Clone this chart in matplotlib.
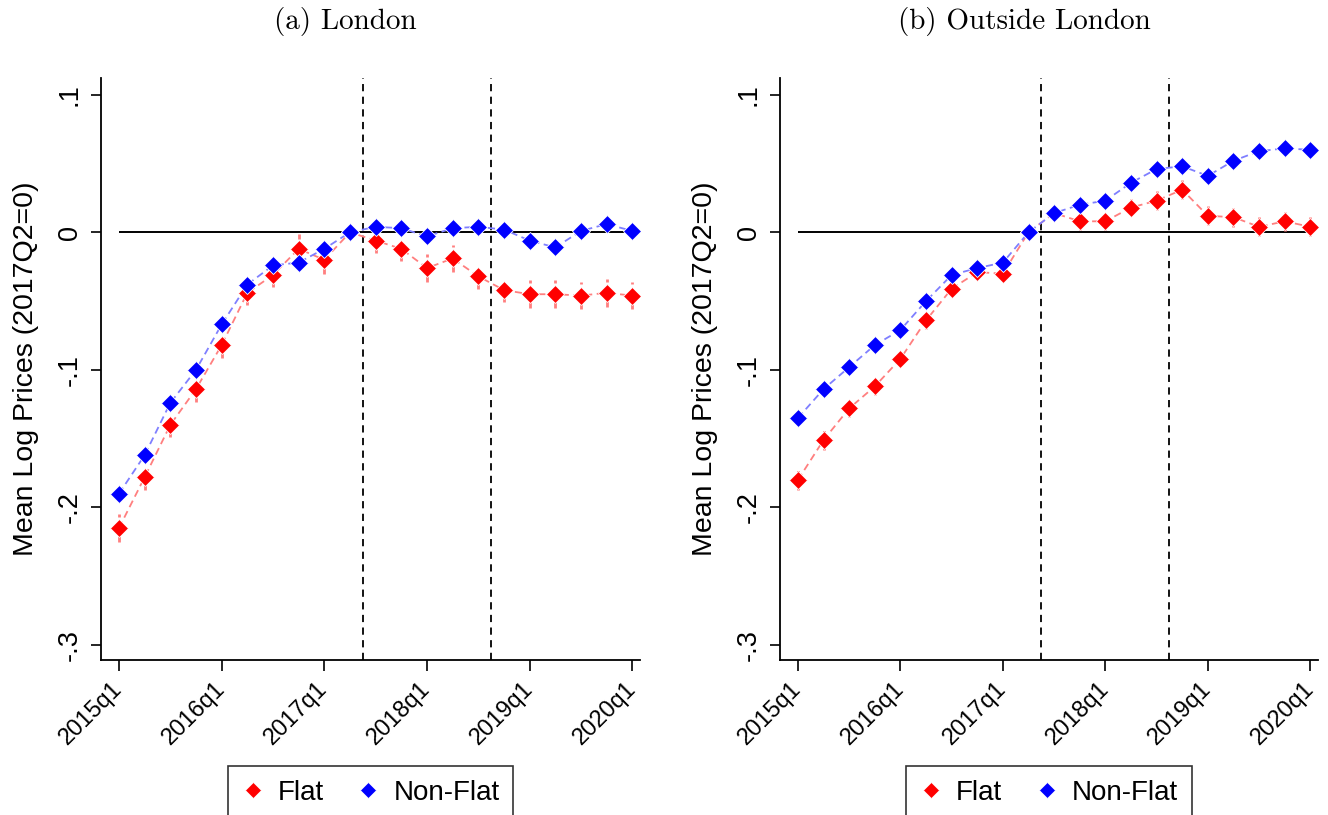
import numpy as np
import matplotlib
matplotlib.use("Agg")
import matplotlib.pyplot as plt
from matplotlib.lines import Line2D

plt.rcParams['font.family'] = ['Liberation Sans', 'DejaVu Sans']

# quarters 2015q1 .. 2020q1
quarters = list(range(21))
tick_pos = [0, 4, 8, 12, 16, 20]
tick_labels = ['2015q1', '2016q1', '2017q1', '2018q1', '2019q1', '2020q1']
event_lines = [9.5, 14.5]

london_flat = [-0.215, -0.178, -0.140, -0.114, -0.082, -0.044, -0.031, -0.012, -0.020, 0.0,
               -0.006, -0.012, -0.026, -0.019, -0.032, -0.042, -0.045, -0.045, -0.046, -0.044, -0.046]
london_flat_ci = [0.010, 0.009, 0.009, 0.009, 0.009, 0.009, 0.009, 0.011, 0.010, 0.0,
                  0.009, 0.009, 0.010, 0.010, 0.009, 0.009, 0.010, 0.010, 0.010, 0.010, 0.010]
london_nonflat = [-0.190, -0.162, -0.124, -0.100, -0.067, -0.038, -0.024, -0.022, -0.012, 0.0,
                  0.004, 0.003, -0.003, 0.003, 0.004, 0.002, -0.006, -0.011, 0.001, 0.006, 0.001]
london_nonflat_ci = [0.004, 0.004, 0.004, 0.004, 0.004, 0.004, 0.004, 0.004, 0.004, 0.0,
                     0.004, 0.004, 0.004, 0.004, 0.004, 0.004, 0.004, 0.004, 0.004, 0.004, 0.004]

outside_flat = [-0.180, -0.151, -0.128, -0.112, -0.092, -0.064, -0.041, -0.029, -0.030, 0.0,
                0.014, 0.008, 0.008, 0.018, 0.023, 0.031, 0.012, 0.011, 0.004, 0.008, 0.004]
outside_flat_ci = [0.007, 0.007, 0.006, 0.006, 0.006, 0.006, 0.006, 0.006, 0.006, 0.0,
                   0.006, 0.006, 0.006, 0.006, 0.007, 0.007, 0.007, 0.007, 0.007, 0.007, 0.007]
outside_nonflat = [-0.135, -0.114, -0.098, -0.082, -0.071, -0.050, -0.031, -0.026, -0.022, 0.0,
                   0.014, 0.020, 0.023, 0.036, 0.046, 0.048, 0.041, 0.052, 0.059, 0.061, 0.060]
outside_nonflat_ci = [0.003] * 9 + [0.0] + [0.003] * 11

panels = [
    ('(a) London', london_flat, london_flat_ci, london_nonflat, london_nonflat_ci),
    ('(b) Outside London', outside_flat, outside_flat_ci, outside_nonflat, outside_nonflat_ci),
]

RED = '#ff0000'
BLUE = '#0000ff'
RED_L = '#ff7f7f'
BLUE_L = '#7f7fff'

fig = plt.figure(figsize=(13.28, 8.15), dpi=100)
axes_rects = [[101 / 1328, 0.19, 539 / 1328, 0.714],
              [780 / 1328, 0.19, 538 / 1328, 0.714]]
title_x = [345 / 1328, 1024 / 1328]

for k, (title, flat, flat_ci, nonflat, nonflat_ci) in enumerate(panels):
    ax = fig.add_axes(axes_rects[k])
    x = np.array(quarters)

    ax.hlines(0, 0, 20, color='black', lw=1.4, zorder=1)
    for v in event_lines:
        ax.axvline(v, color='black', lw=1.3, ls=(0, (4, 3)), zorder=1)

    for y, ci, c, cl in [(flat, flat_ci, RED, RED_L), (nonflat, nonflat_ci, BLUE, BLUE_L)]:
        y = np.array(y)
        ci = np.array(ci)
        ax.vlines(x, y - ci, y + ci, colors=cl, lw=2.0, linestyles=(0, (2.5, 2)), zorder=2)
        ax.plot(x, y, color=cl, lw=1.3, ls=(0, (4, 2.5)), zorder=3)
        ax.plot(x, y, ls='none', marker='D', ms=9.3, mfc=c, mec='white', mew=0.6, zorder=4)

    ax.set_xlim(-0.7, 20.3)
    ax.set_ylim(-0.311, 0.112)
    ax.set_yticks([0.1, 0, -0.1, -0.2, -0.3])
    ax.set_yticklabels(['.1', '0', '-.1', '-.2', '-.3'], rotation=90, va='center', fontsize=19.5)
    ax.set_xticks(tick_pos)
    ax.set_xticklabels(tick_labels, rotation=45, ha='right', va='center',
                       rotation_mode='anchor', fontsize=17)
    ax.tick_params(axis='x', length=8, width=1.2, direction='out', pad=10)
    ax.tick_params(axis='y', length=7, width=1.2, direction='out', pad=6)
    ax.set_ylabel('Mean Log Prices (2017Q2=0)', fontsize=20.5, labelpad=13)
    for s in ['top', 'right']:
        ax.spines[s].set_visible(False)
    for s in ['left', 'bottom']:
        ax.spines[s].set_linewidth(1.3)

    fig.text(title_x[k], 1 - 22 / 815, title, fontfamily='cmr10', fontsize=21,
             ha='center', va='center')

    handles = [Line2D([], [], ls='none', marker='D', ms=8, mfc=RED, mec='white', mew=0.5),
               Line2D([], [], ls='none', marker='D', ms=8, mfc=BLUE, mec='white', mew=0.5)]
    leg = ax.legend(handles, ['Flat', 'Non-Flat'], loc='upper center', bbox_to_anchor=(0.5, -0.182),
                    ncol=2, fontsize=20, frameon=True, fancybox=False, edgecolor='black',
                    handletextpad=0.5, columnspacing=1.2, handlelength=0.8, borderpad=0.5,
                    borderaxespad=0)
    leg.get_frame().set_linewidth(1.2)

fig.savefig('out.png', dpi=100)
